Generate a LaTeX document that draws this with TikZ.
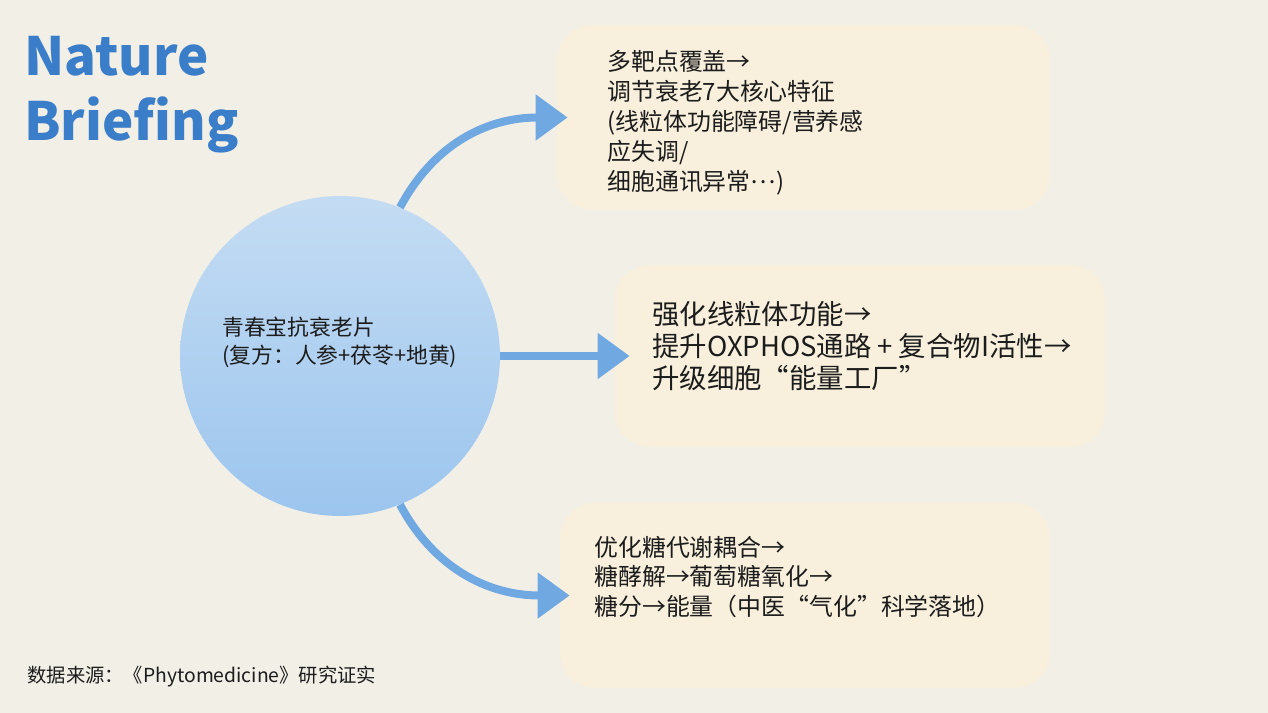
\documentclass[tikz,border=0pt]{standalone}
\usepackage{fontspec}
\setmainfont{Noto Sans CJK SC}
\usetikzlibrary{arrows.meta}
\definecolor{paper}{HTML}{F2EFE7}
\definecolor{cream}{HTML}{F8F0DD}
\definecolor{ink}{HTML}{1C1C1C}
\definecolor{titleblue}{HTML}{3A7DC9}
\definecolor{arrowblue}{HTML}{70A8E2}
\definecolor{balltop}{HTML}{C4DCF3}
\definecolor{ballbot}{HTML}{9CC5EE}
\tikzset{
	card/.style={rectangle, rounded corners=0.7cm, fill=cream, inner sep=0},
	flow/.style={line width=0.16cm, draw=arrowblue, -{Triangle[length=0.64cm,width=0.88cm]}},
	txt/.style={anchor=west, align=left, text=ink, inner sep=0}
}

\begin{document}
\begin{tikzpicture}[x=0.02cm, y=-0.02cm]
			%%%%% START %%%%%
			\fill[paper] (0, 0) rectangle (1268, 713);
			\useasboundingbox (0, 0) rectangle (1268, 713);
			
			\node[txt, anchor=base west, text=titleblue, font=\fontsize{30}{34}\selectfont\bfseries] (nature) at (24, 76) {Nature};
			\node[txt, anchor=base west, text=titleblue, font=\fontsize{30}{34}\selectfont\bfseries] (briefing) at (24, 141) {Briefing};
			
			\node[circle, minimum size=6.4cm, inner sep=0, top color=balltop, bottom color=ballbot] (core) at (340, 356) {};
			\node[txt, font=\fontsize{12.4}{16}\selectfont] (coretext) at (222, 342) {青春宝抗衰老片\\(复方：人参+茯苓+地黄)};
			
			\node[card, minimum width=9.86cm, minimum height=3.7cm] (b1) at (803.5, 117.5) {};
			\node[card, minimum width=9.8cm, minimum height=3.64cm] (b2) at (860, 356) {};
			\node[card, minimum width=9.8cm, minimum height=3.7cm] (b3) at (805, 595.5) {};
			
			\node[txt, font=\fontsize{13.6}{17}\selectfont] (t1) at (607, 123) {多靶点覆盖→\\调节衰老7大核心特征\\(线粒体功能障碍/营养感\\应失调/\\细胞通讯异常\raisebox{0.3em}{…})};
			\node[txt, font=\fontsize{15.6}{18.2}\selectfont] (t2) at (652, 346) {强化线粒体功能→\\提升OXPHOS通路 + 复合物I活性→\\升级细胞“能量工厂”};
			\node[txt, font=\fontsize{13.6}{17}\selectfont] (t3) at (594, 577) {优化糖代谢耦合→\\糖酵解→葡萄糖氧化→\\糖分→能量（中医“气化”科学落地）};
			
			\draw[flow, shorten >=-0.22cm] (core.68) to[out=62, in=180] (b1.west);
			\draw[flow, shorten >=-0.3cm] (core.east) -- (b2.west);
			\draw[flow, shorten >=-0.2cm] (core.-68) to[out=-62, in=180] (b3.west);
			
			\node[txt, font=\fontsize{11}{13}\selectfont] (source) at (27, 677) {数据来源：《Phytomedicine》研究证实};
			%%%%% END %%%%%
\end{tikzpicture}
\end{document}
